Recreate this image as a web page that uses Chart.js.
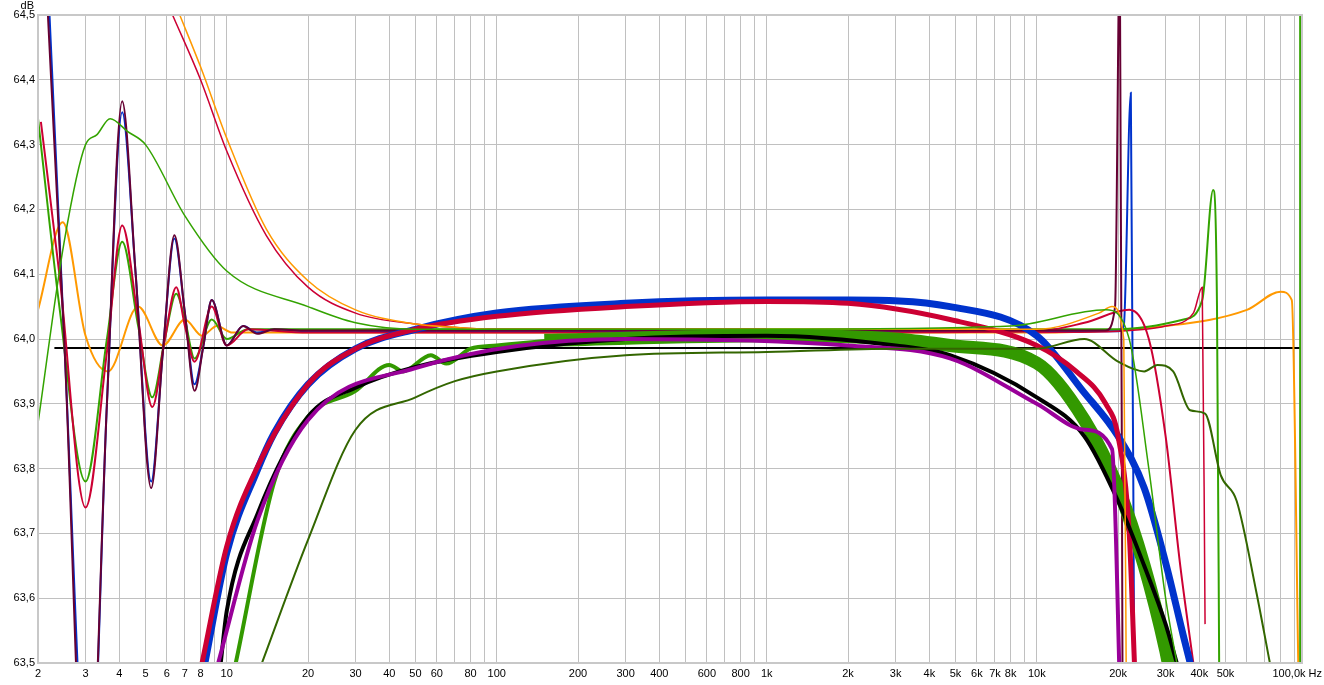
<!DOCTYPE html>
<html lang="en">
<head>
<meta charset="UTF-8">
<title>Frequency response</title>
<script src="https://cdn.jsdelivr.net/npm/chart.js"></script>
<style>
  body { margin: 0; background: #fff; }
  #wrap { width: 1324px; height: 685px; }
</style>
</head>
<body>
<div id="wrap"><canvas id="fr"></canvas></div>
<script>
// [Hz, dB] points
const flatRef = [[2.3, 63.986], [95000, 63.986]];
const maroonOsc = [[2, 64.8], [2.5, 64.0], [3.05, 63.2], [3.6, 63.9], [4.1, 64.367], [4.6, 64.1], [5.25, 63.77], [5.8, 63.98], [6.4, 64.16], [7.0, 64.04], [7.6, 63.92], [8.2, 63.99], [8.8, 64.06], [10, 63.99], [11.5, 64.02], [13, 64.008], [15, 64.015], [20, 64.013], [1000, 64.013], [18000, 64.013], [19500, 64.05], [20300, 64.6], [20800, 63.4]];
const blueOsc = [[2.05, 64.8], [2.5, 64.0], [3.1, 63.25], [3.6, 63.9], [4.1, 64.35], [4.6, 64.1], [5.25, 63.78], [5.8, 63.98], [6.4, 64.155], [7.0, 64.04], [7.6, 63.93], [8.2, 63.99], [8.8, 64.06], [10, 63.99], [11.5, 64.02], [13, 64.01], [15, 64.015], [20, 64.012], [1000, 64.012], [20000, 64.012], [21000, 64.02], [22300, 64.38], [23000, 63.4]];
const redOsc = [[2.05, 64.335], [2.4, 64.1], [3.0, 63.74], [3.6, 63.98], [4.1, 64.175], [4.7, 64.03], [5.3, 63.895], [5.9, 64.0], [6.5, 64.08], [7.0, 64.02], [7.6, 63.965], [8.8, 64.05], [10, 63.99], [12, 64.015], [20, 64.01], [1000, 64.01], [10000, 64.012], [15000, 64.025], [22000, 64.045], [26000, 64.0], [30000, 63.85], [34000, 63.65], [38000, 63.5]];
const redSpike = [[10000, 64.01], [20000, 64.012], [30000, 64.02], [38000, 64.04], [41000, 64.08], [42000, 63.56]];
const greenOsc = [[2, 64.34], [2.4, 64.05], [3.0, 63.78], [3.6, 64.0], [4.1, 64.15], [4.7, 64.02], [5.3, 63.91], [5.9, 64.0], [6.5, 64.07], [7.0, 64.03], [7.6, 63.97], [8.8, 64.03], [10, 64.0], [12, 64.015], [20, 64.015], [1000, 64.015], [20000, 64.015], [35000, 64.03], [41000, 64.06], [45000, 64.23], [46500, 64.05], [47500, 63.4]];
const greenTail = [[94500, 63.4], [94500, 64.6]];
const greenSlow = [[2, 63.87], [2.5, 64.15], [3, 64.3], [3.3, 64.315], [3.7, 64.34], [4.3, 64.32], [5, 64.3], [7, 64.19], [10, 64.105], [20, 64.05], [30, 64.025], [50, 64.015], [1000, 64.015], [8000, 64.02], [18000, 64.045], [22000, 64.0], [26000, 63.8], [30000, 63.6], [33000, 63.5]];
const orangeLow = [[2, 64.045], [2.47, 64.18], [3.0, 64.005], [3.63, 63.95], [4.7, 64.05], [5.8, 63.99], [7.0, 64.03], [8.1, 64.005], [9.2, 64.02], [10.5, 64.01], [100, 64.01], [10000, 64.01], [30000, 64.02], [60000, 64.045], [80000, 64.073], [88000, 64.06], [93000, 63.5]];
const orangeHi = [[6.7, 64.5], [8, 64.42], [10, 64.31], [14, 64.17], [20, 64.09], [30, 64.045], [50, 64.023], [70, 64.018], [100, 64.015], [1000, 64.015], [10000, 64.015], [17000, 64.04], [19000, 64.05], [21000, 64.0], [21500, 63.4]];
const redHi = [[6.3, 64.5], [8, 64.4], [10, 64.29], [14, 64.16], [20, 64.08], [30, 64.04], [50, 64.023], [70, 64.018], [100, 64.015], [1000, 64.015]];
const blueRise = [[8.3, 63.5], [10, 63.67], [12.9, 63.795], [15, 63.855], [20, 63.93], [30, 63.985], [50, 64.015], [100, 64.04], [300, 64.055], [1000, 64.06], [2000, 64.06], [4770, 64.05], [10000, 64.005], [14800, 63.92], [20000, 63.85], [25000, 63.77], [30000, 63.655], [35000, 63.54], [37000, 63.5]];
const redRise = [[8.1, 63.5], [10, 63.68], [12.9, 63.8], [20, 63.93], [30, 63.985], [50, 64.015], [100, 64.035], [300, 64.05], [1000, 64.058], [2000, 64.055], [4770, 64.03], [10000, 63.99], [14000, 63.95], [18000, 63.9], [20000, 63.85], [22000, 63.7], [23000, 63.5]];
const blackRise = [[9.5, 63.5], [10, 63.58], [13, 63.73], [20, 63.88], [30, 63.925], [50, 63.957], [100, 63.98], [300, 64.0], [1000, 64.005], [3000, 63.99], [4770, 63.975], [10000, 63.91], [15000, 63.85], [20000, 63.75], [25000, 63.65], [30000, 63.56], [33000, 63.5]];
const purpleRise = [[9.3, 63.5], [13, 63.72], [20, 63.875], [50, 63.955], [300, 64.0], [2000, 63.99], [4770, 63.97], [10000, 63.9], [15000, 63.86], [19000, 63.83], [20500, 63.4]];
const greenNoisy = [[10.8, 63.5], [15, 63.78], [20, 63.88], [30, 63.92], [40, 63.96], [45, 63.95], [57, 63.975], [65, 63.962], [80, 63.985], [100, 63.99], [200, 64.0], [1000, 64.005], [3000, 64.0], [4770, 63.99], [10000, 63.965], [15000, 63.88], [20000, 63.78], [25000, 63.66], [30000, 63.53], [31000, 63.5]];
const greenBand = [[150, 63.998], [1000, 64.005], [3000, 64.0], [4770, 63.99], [10000, 63.963], [15000, 63.875], [20000, 63.77], [25000, 63.65], [30000, 63.52], [31000, 63.49]];
const oliveSlow = [[13.5, 63.5], [20, 63.69], [30, 63.86], [50, 63.91], [70, 63.935], [100, 63.95], [300, 63.975], [1000, 63.98], [3000, 63.985], [10000, 63.985], [15000, 64.0], [20000, 63.965], [25000, 63.95], [28000, 63.96], [32000, 63.95], [37000, 63.89], [42000, 63.885], [48000, 63.79], [55000, 63.75], [65000, 63.61], [73000, 63.5]];

const xLabels = [2, 3, 4, 5, 6, 7, 8, 10, 20, 30, 40, 50, 60, 80, 100, 200, 300, 400, 600, 800, 1000, 2000, 3000, 4000, 5000, 6000, 7000, 8000, 10000, 20000, 30000, 40000, 50000];
const xMin = 2, xMax = 96000;
const yTicks = [63.5, 63.6, 63.7, 63.8, 63.9, 64.0, 64.1, 64.2, 64.3, 64.4, 64.5];

function series(pts, color, width) {
  return {
    data: pts.map(p => ({ x: p[0], y: p[1] })),
    borderColor: color, borderWidth: width, pointRadius: 0,
    cubicInterpolationMode: 'monotone', fill: false
  };
}

function fmtHz(v) {
  if (v >= 1000) return (v / 1000) + 'k';
  return String(v);
}

const frame = {
  id: 'frame',
  afterDraw(chart) {
    const { ctx, chartArea: a } = chart;
    ctx.save();
    ctx.strokeStyle = '#c8c8c8';
    ctx.lineWidth = 2;
    ctx.strokeRect(a.left, a.top, a.right - a.left, a.bottom - a.top);
    ctx.fillStyle = '#000';
    ctx.font = '11px "Liberation Sans"';
    ctx.textAlign = 'right';
    ctx.textBaseline = 'top';
    ctx.fillText('dB', 34, 0);
    ctx.textBaseline = 'middle';
    ctx.fillText('100,0k Hz', 1322, 674);
    ctx.restore();
  }
};

new Chart(document.getElementById('fr'), {
  type: 'line',
  data: {
    datasets: [
      series(greenSlow, '#33a300', 1.5),
      series(orangeHi, '#ff9900', 1.5),
      series(redHi, '#cc0033', 1.5),
      series(oliveSlow, '#336600', 2),
      series(purpleRise, '#990099', 4),
      series(blackRise, '#000000', 4),
      series(redRise, '#cc0033', 5),
      series(blueRise, '#0033cc', 7),
      series(greenNoisy, '#339900', 4),
      series(greenBand, '#339900', 13),
      series(maroonOsc, '#660033', 2),
      series(redOsc, '#cc0033', 2),
      series(redSpike, '#cc0033', 1.5),
      series(greenOsc, '#33a300', 2),
      series(greenTail, '#33a300', 2),
      series(blueOsc, '#0033cc', 2),
      series(orangeLow, '#ff9900', 2),
      series(flatRef, '#000000', 2)
    ]
  },
  options: {
    responsive: true, maintainAspectRatio: false, animation: false,
    layout: { padding: { top: 15, right: 22, left: 0, bottom: 0 } },
    plugins: { legend: { display: false }, tooltip: { enabled: false } },
    scales: {
      x: {
        type: 'logarithmic', min: xMin, max: xMax,
        afterBuildTicks(axis) {
          const t = [];
          for (let d = 1; d <= 100000; d *= 10)
            for (let m = 1; m <= 9; m++) {
              const v = m * d;
              if (v >= xMin && v < xMax) t.push({ value: v });
            }
          axis.ticks = t;
        },
        afterFit(axis) { axis.height = 22; },
        grid: { color: '#c0c0c0', drawTicks: false },
        border: { display: false },
        ticks: {
          autoSkip: false, maxRotation: 0, padding: 4, color: '#000',
          font: { family: 'Liberation Sans', size: 11 },
          callback: v => xLabels.includes(v) ? fmtHz(v) : ''
        }
      },
      y: {
        min: 63.5, max: 64.5,
        afterBuildTicks(axis) { axis.ticks = yTicks.map(v => ({ value: v })); },
        afterFit(axis) { axis.width = 38; },
        grid: { color: '#c0c0c0', drawTicks: false },
        border: { display: false },
        ticks: {
          padding: 3, color: '#000',
          font: { family: 'Liberation Sans', size: 11 },
          callback: v => v.toFixed(1).replace('.', ',')
        }
      }
    }
  },
  plugins: [frame]
});
</script>
</body>
</html>
